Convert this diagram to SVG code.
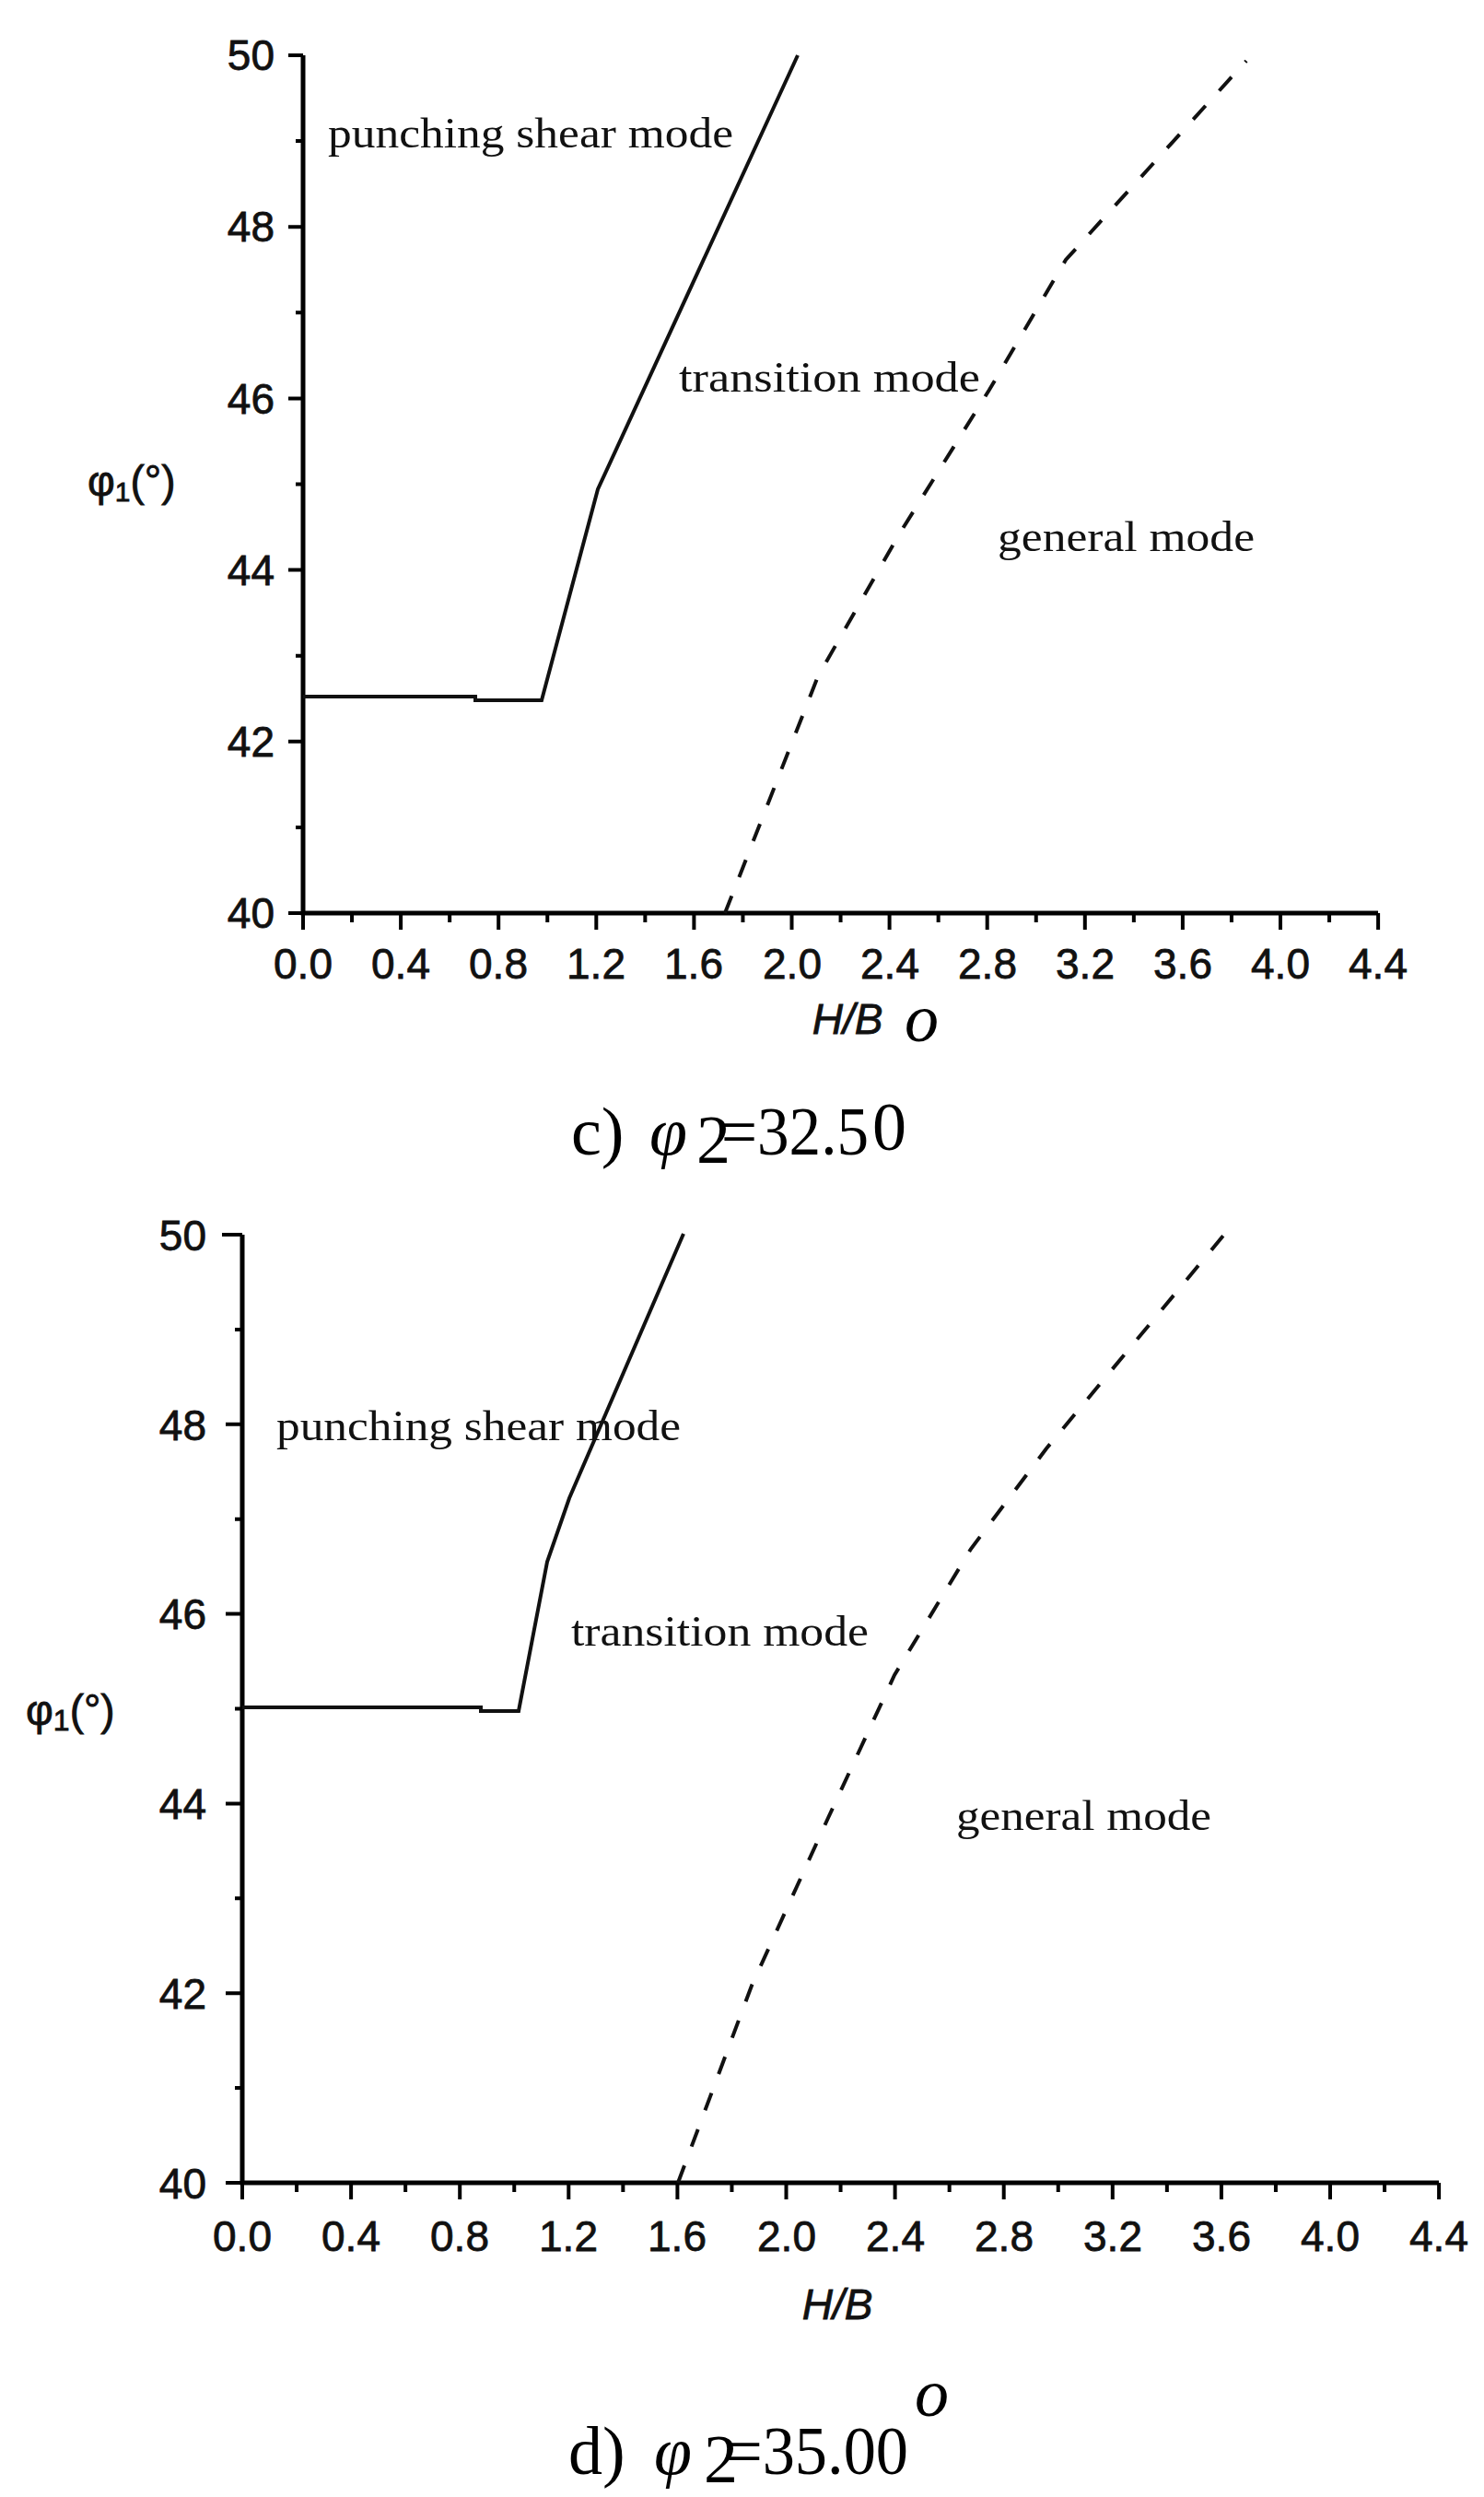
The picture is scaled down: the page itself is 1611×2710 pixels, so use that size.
<svg xmlns="http://www.w3.org/2000/svg" width="1611" height="2710" viewBox="0 0 1611 2710">
<style>
.ax{fill:none;stroke:#000;stroke-width:5}
.tk{fill:none;stroke:#000;stroke-width:4}
.sol{fill:none;stroke:#111;stroke-width:4}
.dsh{fill:none;stroke:#111;stroke-width:4;stroke-dasharray:20 22}
.num{font-family:"Liberation Sans",Arial,sans-serif;font-size:46px;fill:#111;stroke:#111;stroke-width:0.8}
.lab{font-family:"Liberation Serif","Times New Roman",serif;font-size:46px;fill:#111}
.cap{font-family:"Liberation Serif","Times New Roman",serif;font-size:74px;fill:#000}
</style>
<rect width="1611" height="2710" fill="#fff"/>
<g id="chart-c">
<path class="ax" d="M329,60 V991 H1496"/>
<path class="tk" d="M329,991v18M435.1,991v18M541.2,991v18M647.3,991v18M753.4,991v18M859.5,991v18M965.6,991v18M1071.7,991v18M1177.8,991v18M1283.9,991v18M1390,991v18M1496.1,991v18
M382.05,991v10M488.15,991v10M594.25,991v10M700.35,991v10M806.45,991v10M912.55,991v10M1018.65,991v10M1124.75,991v10M1230.85,991v10M1336.95,991v10M1443.05,991v10
M329,991h-16M329,804.8h-16M329,618.6h-16M329,432.4h-16M329,246.2h-16M329,60h-16
M329,897.9h-8M329,711.7h-8M329,525.5h-8M329,339.3h-8M329,153.1h-8"/>
<g class="num" text-anchor="middle">
<text x="329" y="1062">0.0</text><text x="435" y="1062">0.4</text><text x="541" y="1062">0.8</text><text x="647" y="1062">1.2</text><text x="753" y="1062">1.6</text><text x="860" y="1062">2.0</text><text x="966" y="1062">2.4</text><text x="1072" y="1062">2.8</text><text x="1178" y="1062">3.2</text><text x="1284" y="1062">3.6</text><text x="1390" y="1062">4.0</text><text x="1496" y="1062">4.4</text>
</g>
<g class="num" text-anchor="end">
<text x="298" y="1007">40</text><text x="298" y="821">42</text><text x="298" y="635">44</text><text x="298" y="449">46</text><text x="298" y="262">48</text><text x="298" y="76">50</text>
</g>
<text class="num" x="920" y="1122" text-anchor="middle" font-style="italic" font-size="54">H/B</text>
<text class="num" x="95" y="538" font-size="52">φ<tspan font-size="30" dy="6">1</tspan><tspan dy="-6">(°)</tspan></text>
<text class="lab" x="356" y="160" textLength="440" lengthAdjust="spacingAndGlyphs">punching shear mode</text>
<text class="lab" x="737" y="425" textLength="327" lengthAdjust="spacingAndGlyphs">transition mode</text>
<text class="lab" x="1083" y="598" textLength="279" lengthAdjust="spacingAndGlyphs">general mode</text>
<path class="sol" d="M329,756 H516 V760 H588 L649,531 L866,60"/>
<path class="dsh" d="M787,991 L888,734 L976,580 L1074,423 L1157,282 L1353,66"/>
<text class="cap" x="620" y="1253">c)</text>
<text class="cap" x="705" y="1253" font-style="italic">φ</text>
<text class="cap" x="756" y="1262" font-size="44">2</text>
<text class="cap" x="783" y="1253" textLength="160" lengthAdjust="spacingAndGlyphs">=32.5</text>
<text class="cap" x="947" y="1248" font-size="62">0</text>
<text class="cap" x="982" y="1130" font-size="50" font-style="italic">o</text>
</g>
<g id="chart-d">
<path class="ax" d="M263,1340 V2369 H1562"/>
<path class="tk" d="M263,2369v18M381.1,2369v18M499.2,2369v18M617.3,2369v18M735.4,2369v18M853.5,2369v18M971.6,2369v18M1089.7,2369v18M1207.8,2369v18M1325.9,2369v18M1444,2369v18M1562.1,2369v18
M322.05,2369v10M440.15,2369v10M558.25,2369v10M676.35,2369v10M794.45,2369v10M912.55,2369v10M1030.65,2369v10M1148.75,2369v10M1266.85,2369v10M1384.95,2369v10M1503.05,2369v10
M263,2369h-18M263,2163.2h-18M263,1957.4h-18M263,1751.6h-18M263,1545.8h-18M263,1340h-22
M263,2266.1h-8M263,2060.3h-8M263,1854.5h-8M263,1648.7h-8M263,1442.9h-8"/>
<g class="num" text-anchor="middle" font-size="50">
<text x="263" y="2443">0.0</text><text x="381" y="2443">0.4</text><text x="499" y="2443">0.8</text><text x="617" y="2443">1.2</text><text x="735" y="2443">1.6</text><text x="854" y="2443">2.0</text><text x="972" y="2443">2.4</text><text x="1090" y="2443">2.8</text><text x="1208" y="2443">3.2</text><text x="1326" y="2443">3.6</text><text x="1444" y="2443">4.0</text><text x="1562" y="2443">4.4</text>
</g>
<g class="num" text-anchor="end" font-size="48">
<text x="224" y="2386">40</text><text x="224" y="2180">42</text><text x="224" y="1974">44</text><text x="224" y="1768">46</text><text x="224" y="1563">48</text><text x="224" y="1357">50</text>
</g>
<text class="num" x="909" y="2517" text-anchor="middle" font-style="italic" font-size="56">H/B</text>
<text class="num" x="28" y="1872" font-size="54">φ<tspan font-size="32" dy="6">1</tspan><tspan dy="-6">(°)</tspan></text>
<text class="lab" x="300" y="1563" textLength="439" lengthAdjust="spacingAndGlyphs">punching shear mode</text>
<text class="lab" x="620" y="1786" textLength="323" lengthAdjust="spacingAndGlyphs">transition mode</text>
<text class="lab" x="1038" y="1986" textLength="277" lengthAdjust="spacingAndGlyphs">general mode</text>
<path class="sol" d="M263,1853 H522 V1857 H563 L594,1695 L618,1626 L742,1339"/>
<path class="dsh" d="M736,2369 L816,2155 L899,1973 L971,1818 L1054,1681 L1136,1572 L1333,1335"/>
<text class="cap" x="617" y="2685">d)</text>
<text class="cap" x="710" y="2685" font-style="italic">φ</text>
<text class="cap" x="764" y="2694" font-size="44">2</text>
<text class="cap" x="788" y="2685" textLength="198" lengthAdjust="spacingAndGlyphs">=35.00</text>
<text class="cap" x="993" y="2622" font-size="50" font-style="italic">o</text>
</g>
</svg>
